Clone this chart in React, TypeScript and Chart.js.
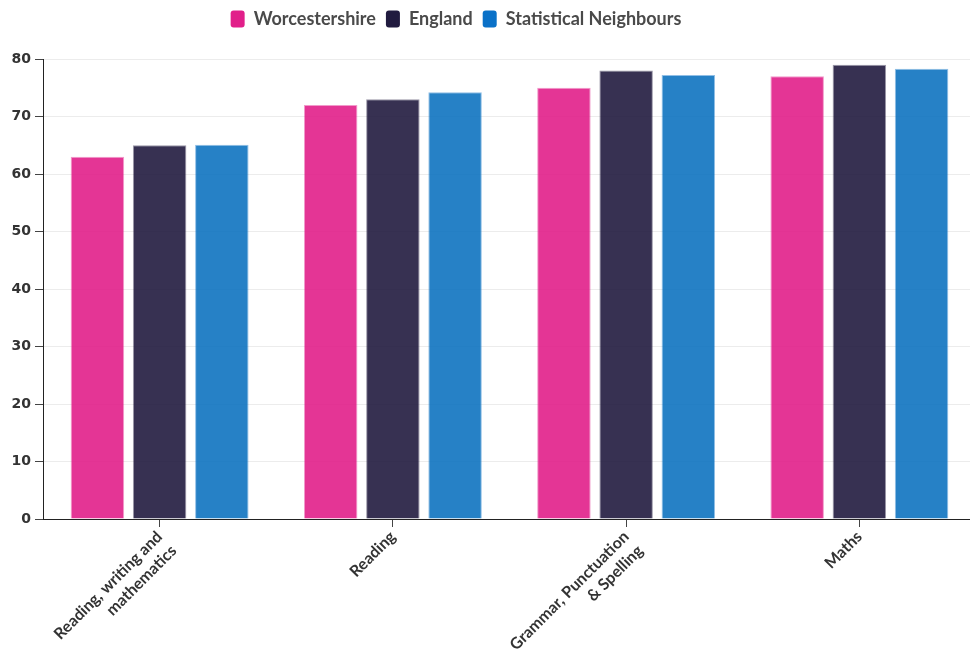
import React, { useEffect, useRef } from "react";
import { Chart, registerables } from "chart.js";

Chart.register(...registerables);

const categories: (string | string[])[] = [
  ["Reading, writing and", "mathematics"],
  "Reading",
  ["Grammar, Punctuation", "& Spelling"],
  "Maths",
];
const seriesNames = ["Worcestershire", "England", "Statistical Neighbours"];
const worcestershire = [63, 72, 75, 77];
const england = [65, 73, 78, 79];
const statNeighbours = [65.1, 74.2, 77.2, 78.3];
const yTicks = [0, 10, 20, 30, 40, 50, 60, 70, 80];

const solid = ["rgb(225,31,138)", "rgb(33,27,63)", "rgb(10,113,200)"];
const fills = ["rgba(225,31,138,0.9)", "rgba(33,27,63,0.9)", "rgba(14,115,192,0.9)"];
const borders = ["rgba(225,31,138,0.45)", "rgba(33,27,63,0.45)", "rgba(10,113,200,0.45)"];

const legendSpacer = {
  id: "legendSpacer",
  beforeInit(chart: any) {
    const legend = chart.legend;
    if (!legend) return;
    const orig = legend.fit;
    legend.fit = function () {
      orig.bind(legend)();
      this.height += 21;
    };
  },
  afterLayout(chart: any) {
    const legend = chart.legend;
    if (!legend) return;
    legend.left -= 32;
    legend.right -= 32;
  },
};

export default function App() {
  const ref = useRef<HTMLCanvasElement | null>(null);

  useEffect(() => {
    document.body.style.margin = "0";
    document.body.style.overflow = "hidden";
    const values = [worcestershire, england, statNeighbours];
    const chart = new Chart(ref.current!, {
      type: "bar",
      data: {
        labels: categories,
        datasets: seriesNames.map((name, i) => ({
          label: name,
          data: values[i],
          backgroundColor: fills[i],
          borderColor: borders[i],
          borderWidth: 1,
          categoryPercentage: 0.8,
          barPercentage: 0.86,
        })),
      },
      options: {
        animation: false,
        responsive: false,
        maintainAspectRatio: false,
        layout: { padding: { left: 0, right: 4, top: 0, bottom: 0 } },
        plugins: {
          legend: {
            display: true,
            position: "top",
            labels: {
              boxWidth: 14,
              boxHeight: 17,
              useBorderRadius: true,
              borderRadius: 3,
              padding: 10,
              color: "#4a4a4a",
              font: { family: "Lato", size: 18, weight: "bold" },
              generateLabels: (chart: any) =>
                chart.data.datasets.map((ds: any, i: number) => ({
                  text: ds.label,
                  fillStyle: solid[i],
                  strokeStyle: solid[i],
                  lineWidth: 0,
                  hidden: false,
                  datasetIndex: i,
                  borderRadius: 3,
                  fontColor: "#4a4a4a",
                })),
            },
          },
          tooltip: { enabled: false },
        },
        scales: {
          x: {
            offset: true,
            grid: {
              display: true,
              offset: false,
              drawOnChartArea: false,
              drawTicks: true,
              tickLength: 8,
              tickColor: "#444",
            },
            border: { display: true, color: "#222", width: 1 },
            ticks: {
              maxRotation: 45,
              minRotation: 45,
              autoSkip: false,
              color: "#333",
              padding: 0,
              font: { family: "Lato", size: 16, weight: "bold", lineHeight: 1.25 },
            },
            afterFit: (scale: any) => {
              scale.height = 142;
            },
          },
          y: {
            min: 0,
            max: 80,
            afterBuildTicks: (scale: any) => {
              scale.ticks = yTicks.map((v) => ({ value: v }));
            },
            grid: {
              color: "#ececec",
              tickColor: "#444",
              tickLength: 8,
              drawTicks: true,
            },
            border: { display: true, color: "#222", width: 1 },
            ticks: {
              color: "#333",
              padding: 4,
              font: { family: "DejaVu Sans", size: 14, weight: "bold" },
            },
            afterFit: (scale: any) => {
              scale.width = 43;
            },
          },
        },
      },
      plugins: [legendSpacer],
    } as any);
    return () => chart.destroy();
  }, []);

  return (
    <div style={{ width: 980, height: 661 }}>
      <canvas ref={ref} width={980} height={661} style={{ display: "block" }} />
    </div>
  );
}
